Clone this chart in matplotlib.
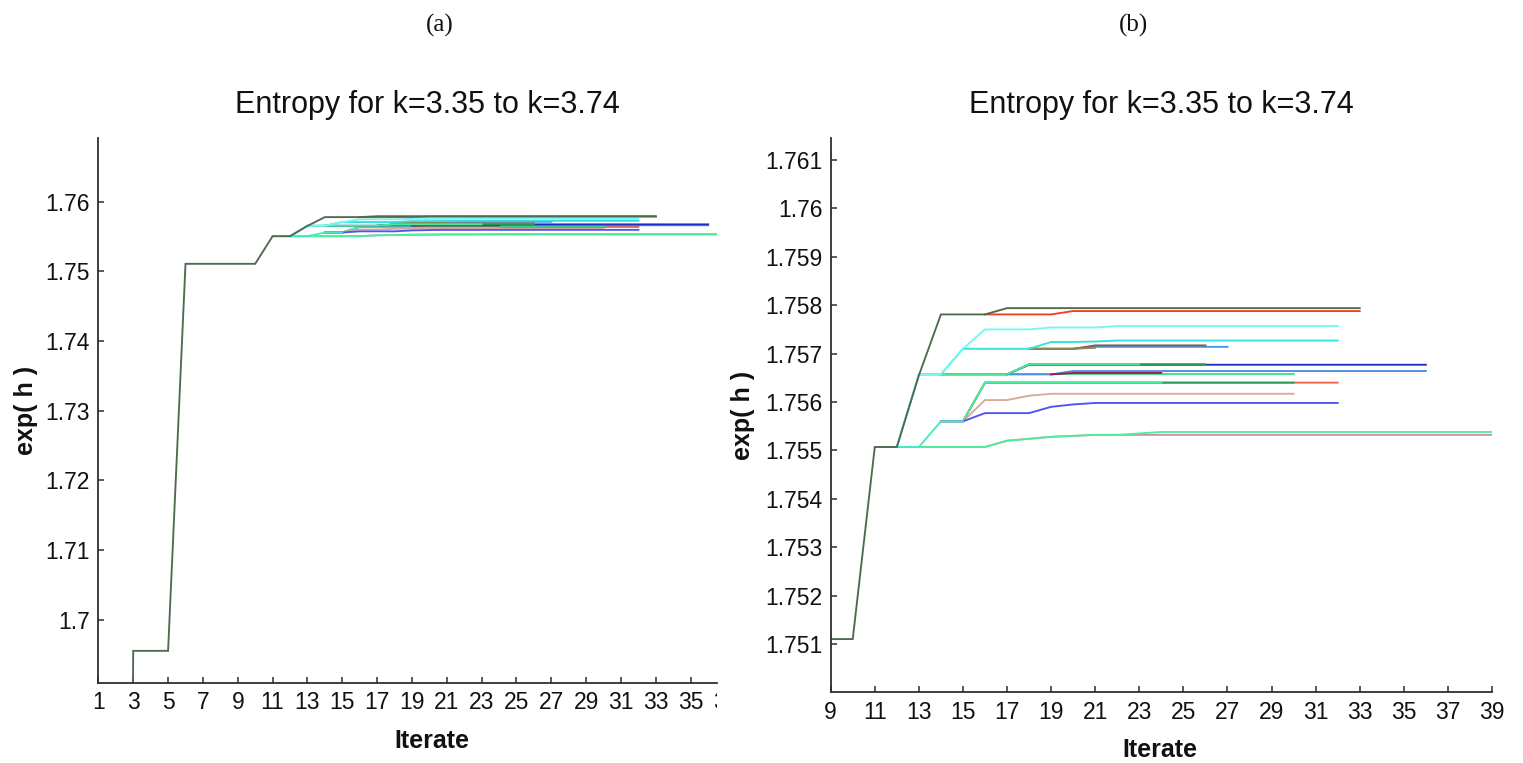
import matplotlib
matplotlib.use("Agg")
import matplotlib.pyplot as plt
from matplotlib import font_manager
from matplotlib.transforms import Bbox, TransformedBbox

W, H = 1523, 763
DPI = 100

# ---------------- data (iterate start, exp(h) values) ----------------
dark_start = 1
dark_vals = [1.0, 1.4142, 1.6955, 1.6955, 1.6955, 1.7511, 1.7511, 1.7511, 1.7511, 1.7511,
             1.75507, 1.75507, 1.75655, 1.75781, 1.75781, 1.75781] + [1.75794] * 17

red_start = 16
red_vals = [1.75781, 1.75781, 1.75781, 1.75781] + [1.75788] * 14

lightcyan_start = 12
lightcyan_vals = [1.75507, 1.75657, 1.75657, 1.7571, 1.7575, 1.7575, 1.7575,
                  1.75754, 1.75754, 1.75754] + [1.75757] * 11

turq_start = 12
turq_vals = [1.75507, 1.75657, 1.75657, 1.7571, 1.7571, 1.7571, 1.7571,
             1.75724, 1.75724, 1.75725] + [1.75727] * 11

steelup_start = 18
steelup_vals = [1.7571, 1.7571, 1.7571] + [1.75714] * 7

brown_start = 18
brown_vals = [1.7571, 1.7571, 1.7571] + [1.75717] * 6

olive_start = 18
olive_vals = [1.7571, 1.7571, 1.7571, 1.75712]

bluedark_start = 14
bluedark_vals = [1.75657] * 4 + [1.75677] * 19

darkgreen_start = 17
darkgreen_vals = [1.75657] + [1.75678] * 9

spring_start = 13
spring_vals = [1.75657] * 5 + [1.75678] * 6

green657_start = 17
green657_vals = [1.75657] * 14

steellow_start = 17
steellow_vals = [1.75657, 1.75657, 1.75657] + [1.75664] * 17

maroon_start = 19
maroon_vals = [1.75657] + [1.7566] * 5

aqualow_start = 11
aqualow_vals = [1.75507, 1.75507, 1.75507, 1.7556, 1.7556]

tomato_start = 14
tomato_vals = [1.7556, 1.7556] + [1.7564] * 17

darkgreen2_start = 15
darkgreen2_vals = [1.7556] + [1.7564] * 15

spring2_start = 14
spring2_vals = [1.7556, 1.7556] + [1.7564] * 9

tan_start = 14
tan_vals = [1.7556, 1.7556, 1.75604, 1.75604, 1.75613] + [1.75617] * 12

blue2_start = 14
blue2_vals = [1.7556, 1.7556, 1.75577, 1.75577, 1.75577, 1.7559, 1.75595] + [1.75598] * 12

pink_start = 12
pink_vals = [1.75507] * 5 + [1.7552, 1.75524, 1.75528, 1.7553, 1.75532] + [1.75532] * 18

greenbot_start = 12
greenbot_vals = [1.75507] * 5 + [1.7552, 1.75524, 1.75528, 1.7553, 1.75532, 1.75532, 1.75535] + [1.75538] * 16

# draw order (first = bottom)
series = [
    (pink_start, pink_vals, "#d78bb6"),
    (greenbot_start, greenbot_vals, "#4af09a"),
    (tomato_start, tomato_vals, "#ee6444"),
    (darkgreen2_start, darkgreen2_vals, "#2f9c55"),
    (spring2_start, spring2_vals, "#48eea0"),
    (tan_start, tan_vals, "#d9aa9a"),
    (blue2_start, blue2_vals, "#5252f2"),
    (aqualow_start, aqualow_vals, "#44eac4"),
    (green657_start, green657_vals, "#44e08c"),
    (steellow_start, steellow_vals, "#4c8fe0"),
    (maroon_start, maroon_vals, "#a01a4a"),
    (bluedark_start, bluedark_vals, "#1c30c8"),
    (darkgreen_start, darkgreen_vals, "#22994c"),
    (spring_start, spring_vals, "#48ea92"),
    (steelup_start, steelup_vals, "#3c98e8"),
    (brown_start, brown_vals, "#8b5c42"),
    (olive_start, olive_vals, "#8a875c"),
    (turq_start, turq_vals, "#33e0e0"),
    (lightcyan_start, lightcyan_vals, "#78f6f6"),
    (red_start, red_vals, "#f0401e"),
    (dark_start, dark_vals, "#4f6a4f"),
]

left_xticks = list(range(1, 36, 2))
left_yticks = [1.70, 1.71, 1.72, 1.73, 1.74, 1.75, 1.76]
left_ylabels = ["1.7", "1.71", "1.72", "1.73", "1.74", "1.75", "1.76"]
right_xticks = list(range(9, 40, 2))
right_yticks = [1.751, 1.752, 1.753, 1.754, 1.755, 1.756, 1.757, 1.758, 1.759, 1.760, 1.761]
right_ylabels = ["1.751", "1.752", "1.753", "1.754", "1.755", "1.756", "1.757",
                 "1.758", "1.759", "1.76", "1.761"]

title_text = "Entropy for k=3.35 to k=3.74"

# ---------------- fonts ----------------
names = {f.name for f in font_manager.fontManager.ttflist}
narrow = 'Liberation Sans Narrow' if 'Liberation Sans Narrow' in names else 'Liberation Sans'
LABEL_FS = 22 if narrow == 'Liberation Sans Narrow' else 18

# ---------------- figure ----------------
plt.rcParams['font.family'] = ['Liberation Sans', 'DejaVu Sans']
fig = plt.figure(figsize=(W / DPI, H / DPI), dpi=DPI)


def px_rect(x0, x1, ytop, ybot):
    return [x0 / W, (H - ybot) / H, (x1 - x0) / W, (ybot - ytop) / H]


L_RIGHT = 717
axL = fig.add_axes(px_rect(98.4, L_RIGHT, 137.7, 683))
axR = fig.add_axes(px_rect(830.7, 1492, 138.3, 692.3))

TICK_FS = 16.5
spine_col = "#2e2e2e"

for ax in (axL, axR):
    for (s, v, c) in series:
        xs = list(range(s, s + len(v)))
        ax.plot(xs, v, color=c, lw=1.35, solid_joinstyle='miter')
    ax.spines['top'].set_visible(False)
    ax.spines['right'].set_visible(False)
    for sp in ('left', 'bottom'):
        ax.spines[sp].set_color(spine_col)
        ax.spines[sp].set_linewidth(1.3)
    ax.tick_params(direction='in', length=4.5, width=1.1, color=spine_col,
                   labelsize=TICK_FS, pad=6, labelcolor='#111111')

axL.set_xlim(1, 1 + (L_RIGHT - 98.4) / 17.42)
axL.set_ylim(1.69088, 1.76922)
axL.set_xticks(left_xticks)
axL.set_xticklabels([str(t) for t in left_xticks])
axL.set_yticks(left_yticks)
axL.set_yticklabels(left_ylabels)

axR.set_xlim(9, 39)
axR.set_ylim(1.75, 1.76145)
axR.set_xticks(right_xticks)
axR.set_xticklabels([str(t) for t in right_xticks])
axR.set_yticks(right_yticks)
axR.set_yticklabels(right_ylabels)

# clipped "37" label of the left panel (cut at the image edge)
lab37 = axL.annotate("37", xy=(37, 0), xycoords=('data', 'axes fraction'),
                     xytext=(0, -6), textcoords='offset points', ha='center', va='top',
                     fontsize=TICK_FS, color='#111111', annotation_clip=False)
lab37.set_clip_on(True)
lab37.set_clip_box(TransformedBbox(Bbox([[0, 0], [L_RIGHT / W, 1]]), fig.transFigure))


def ftext(x, y, s, **kw):
    fig.text(x / W, 1 - y / H, s, **kw)


TITLE_FS = 22
ftext(427, 105, title_text, ha='center', va='center', fontsize=TITLE_FS, color='#111111')
ftext(1161, 105, title_text, ha='center', va='center', fontsize=TITLE_FS, color='#111111')
ftext(432, 741, "Iterate", ha='center', va='center', fontsize=LABEL_FS,
      family=narrow, weight='bold', color='#111111')
ftext(1160, 750, "Iterate", ha='center', va='center', fontsize=LABEL_FS,
      family=narrow, weight='bold', color='#111111')
ftext(26, 410, "exp( h )", ha='center', va='center', rotation=90, fontsize=LABEL_FS,
      family=narrow, weight='bold', color='#111111')
ftext(743, 415, "exp( h )", ha='center', va='center', rotation=90, fontsize=LABEL_FS,
      family=narrow, weight='bold', color='#111111')
ftext(440, 25, "(a)", ha='center', va='center', fontsize=18, family='Liberation Serif', color='#111111')
ftext(1133, 25, "(b)", ha='center', va='center', fontsize=18, family='Liberation Serif', color='#111111')

fig.savefig("out.png", dpi=DPI, facecolor='white')
